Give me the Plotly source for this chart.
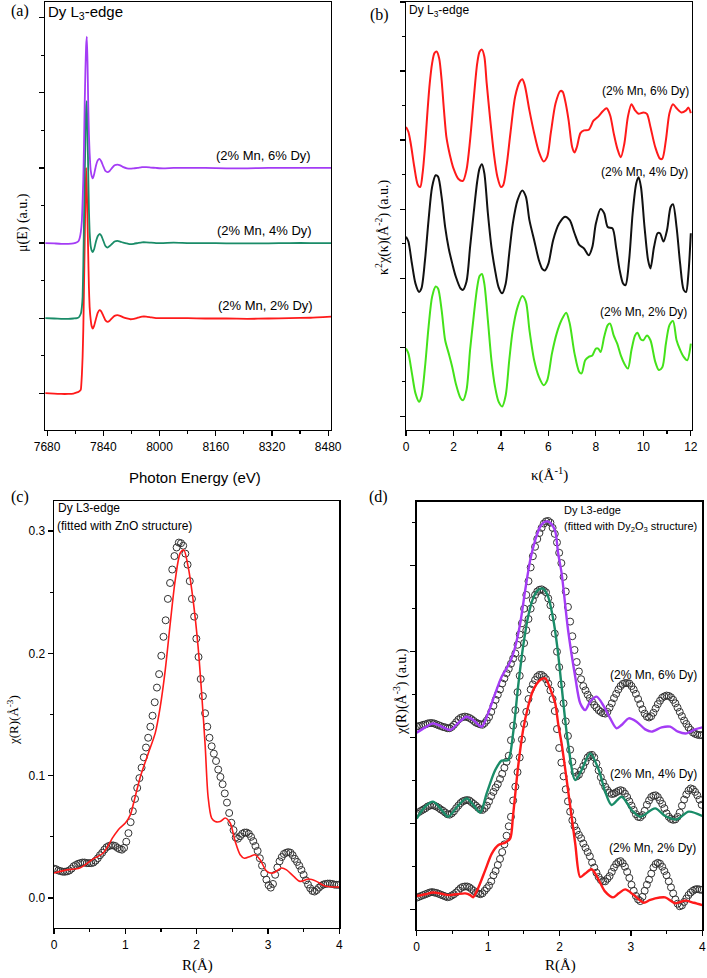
import plotly.graph_objects as go

# ---------------- Panel (a): XANES mu(E) ----------------
E_A = [7675, 7700, 7720, 7740, 7755, 7765, 7770, 7773, 7776, 7779, 7781, 7783, 7785, 7787,
       7789, 7791, 7793, 7795, 7797, 7799, 7801, 7804, 7807, 7810, 7814, 7819, 7824, 7829,
       7834, 7840, 7846, 7852, 7858, 7865, 7872, 7880, 7888, 7897, 7907, 7917, 7927, 7938,
       7950, 7962, 7975, 7990, 8010, 8040, 8080, 8130, 8190, 8250, 8310, 8370, 8430, 8488]
MU_2DY = [0.0, -0.005, -0.01, -0.01, -0.005, 0.01, 0.02, 0.03, 0.05, 0.25, 0.48, 0.85, 1.41, 2.0,
          2.6, 3.0, 2.75, 2.30, 1.85, 1.41, 1.15, 0.98, 0.89, 0.86, 0.90, 0.99, 1.07, 1.105,
          1.09, 1.03, 0.97, 0.95, 0.965, 1.0, 1.03, 1.04, 1.03, 1.01, 0.995, 0.985, 0.99, 1.005,
          1.02, 1.02, 1.01, 1.0, 1.0, 1.0, 1.0, 0.995, 0.995, 0.99, 0.995, 1.0, 1.005, 1.02]
MU_4DY = [1.0, 0.995, 0.99, 0.99, 0.995, 1.0, 1.01, 1.03, 1.06, 1.15, 1.28, 1.7, 2.30, 2.9,
          3.35, 3.80, 3.89, 3.49, 2.95, 2.45, 2.15, 1.96, 1.90, 1.88, 1.92, 2.02, 2.09, 2.12,
          2.10, 2.03, 1.96, 1.94, 1.96, 1.99, 2.02, 2.03, 2.02, 2.005, 1.995, 1.985, 1.99, 2.0,
          2.01, 2.01, 2.005, 2.0, 2.0, 2.005, 2.0, 2.0, 1.995, 1.995, 1.995, 2.0, 2.0, 2.0]
MU_6DY = [2.0, 1.995, 1.99, 1.99, 1.995, 2.01, 2.03, 2.07, 2.15, 2.3, 2.55, 2.85, 3.3, 3.85,
          4.3, 4.62, 4.75, 4.42, 3.85, 3.45, 3.2, 2.97, 2.89, 2.86, 2.92, 3.03, 3.1, 3.12,
          3.09, 3.02, 2.96, 2.945, 2.96, 3.0, 3.035, 3.045, 3.035, 3.01, 2.995, 2.99, 2.995, 3.0,
          3.01, 3.01, 3.005, 3.0, 2.995, 3.0, 3.0, 3.0, 2.995, 2.995, 3.0, 3.0, 3.0, 3.0]

# ---------------- Panel (b): k^2 chi(k) ----------------
K_6DY = [0, 0.1, 0.2, 0.35, 0.5, 0.6, 0.7, 0.8, 0.9, 1.0, 1.1, 1.2, 1.3, 1.4, 1.5, 1.6, 1.7, 1.8,
         1.9, 2.0, 2.2, 2.4, 2.55, 2.7, 2.85, 3.0, 3.1, 3.2, 3.3, 3.4, 3.55, 3.7, 3.85, 4.0, 4.1,
         4.25, 4.4, 4.6, 4.8, 4.9, 5.0, 5.2, 5.4, 5.6, 5.8, 5.95, 6.1, 6.3, 6.5, 6.6, 6.7, 6.85,
         7.0, 7.1, 7.2, 7.35, 7.5, 7.7, 7.9, 8.1, 8.3, 8.45, 8.6, 8.75, 8.9, 9.05, 9.2, 9.35, 9.5,
         9.65, 9.8, 10.0, 10.15, 10.3, 10.5, 10.7, 10.8, 10.95, 11.1, 11.25, 11.4, 11.6, 11.8,
         11.9, 12.0]
CHI_6DY = [4.19, 4.12, 3.95, 3.61, 3.35, 3.32, 3.52, 3.90, 4.39, 4.82, 5.11, 5.26, 5.28, 5.18,
           4.87, 4.43, 4.05, 3.86, 3.71, 3.59, 3.44, 3.41, 3.57, 4.0, 4.58, 5.11, 5.28, 5.31,
           5.21, 4.82, 4.29, 3.81, 3.47, 3.32, 3.35, 3.66, 4.10, 4.63, 4.85, 4.88, 4.80, 4.43,
           4.10, 3.83, 3.69, 3.76, 4.10, 4.53, 4.71, 4.70, 4.58, 4.29, 3.90, 3.82, 3.90, 4.10,
           4.14, 4.15, 4.28, 4.34, 4.42, 4.46, 4.36, 4.10, 3.88, 3.75, 3.95, 4.34, 4.52, 4.43,
           4.38, 4.40, 4.38, 4.19, 3.90, 3.73, 3.73, 4.0, 4.39, 4.52, 4.46, 4.40, 4.43, 4.47, 4.39]
K_4DY = [0, 0.1, 0.25, 0.4, 0.55, 0.65, 0.8, 0.95, 1.1, 1.25, 1.35, 1.5, 1.65, 1.8, 1.95, 2.1,
         2.3, 2.4, 2.55, 2.7, 2.85, 3.0, 3.1, 3.2, 3.3, 3.45, 3.6, 3.75, 3.9, 4.05, 4.2, 4.35,
         4.5, 4.7, 4.9, 5.05, 5.2, 5.4, 5.6, 5.75, 5.85, 6.0, 6.2, 6.45, 6.7, 6.9, 7.1, 7.3, 7.5,
         7.7, 7.85, 8.0, 8.2, 8.35, 8.5, 8.7, 8.85, 9.0, 9.15, 9.25, 9.4, 9.55, 9.7, 9.8, 9.9,
         10.05, 10.2, 10.3, 10.45, 10.6, 10.7, 10.85, 11.0, 11.15, 11.25, 11.4, 11.55, 11.7,
         11.8, 11.9, 12.0]
CHI_4DY = [2.60, 2.53, 2.21, 1.92, 1.80, 1.85, 2.26, 2.84, 3.32, 3.49, 3.47, 3.18, 2.74, 2.43,
           2.21, 2.02, 1.85, 1.83, 1.95, 2.45, 2.94, 3.40, 3.59, 3.65, 3.52, 2.94, 2.45, 2.12,
           1.87, 1.78, 1.92, 2.36, 2.79, 3.13, 3.27, 3.18, 2.84, 2.55, 2.26, 2.13, 2.11, 2.21,
           2.55, 2.79, 2.89, 2.84, 2.65, 2.48, 2.43, 2.33, 2.45, 2.79, 3.0, 2.94, 2.74, 2.72,
           2.45, 2.12, 1.92, 1.90, 2.26, 2.94, 3.37, 3.46, 3.32, 2.74, 2.26, 2.14, 2.45, 2.65,
           2.65, 2.53, 2.70, 3.03, 3.07, 2.74, 2.21, 1.83, 1.80, 2.07, 2.65]
K_2DY = [0, 0.1, 0.25, 0.4, 0.55, 0.65, 0.8, 0.95, 1.1, 1.25, 1.35, 1.5, 1.65, 1.8, 1.95, 2.1,
         2.3, 2.4, 2.55, 2.7, 2.85, 3.0, 3.1, 3.2, 3.3, 3.45, 3.6, 3.75, 3.9, 4.05, 4.2, 4.35,
         4.5, 4.7, 4.9, 5.05, 5.2, 5.4, 5.6, 5.8, 5.95, 6.15, 6.35, 6.55, 6.75, 6.9, 7.1, 7.3,
         7.4, 7.55, 7.7, 7.85, 8.0, 8.1, 8.2, 8.35, 8.5, 8.6, 8.75, 8.9, 9.05, 9.2, 9.35, 9.5,
         9.65, 9.75, 9.9, 10.0, 10.15, 10.3, 10.5, 10.65, 10.8, 10.95, 11.1, 11.25, 11.4, 11.55,
         11.7, 11.85, 12.0]
CHI_2DY = [0.98, 0.91, 0.62, 0.33, 0.21, 0.28, 0.71, 1.29, 1.73, 1.88, 1.85, 1.54, 1.10, 0.91,
           0.71, 0.47, 0.26, 0.23, 0.38, 0.96, 1.44, 1.87, 2.03, 2.06, 1.92, 1.39, 0.81, 0.43,
           0.21, 0.14, 0.30, 0.81, 1.25, 1.58, 1.74, 1.66, 1.25, 0.81, 0.57, 0.45, 0.52, 0.91,
           1.20, 1.39, 1.50, 1.34, 0.91, 0.64, 0.62, 0.81, 0.86, 0.88, 0.98, 0.98, 0.93, 1.15,
           1.32, 1.34, 1.17, 1.05, 0.88, 0.76, 0.69, 0.96, 1.17, 1.21, 1.11, 1.10, 1.17, 1.10,
           0.79, 0.67, 0.71, 1.05, 1.32, 1.38, 1.10, 0.96, 0.86, 0.81, 1.05]

# ---------------- Common R grid for measured chi(R) (circles) ----------------
R_GRID = [0.0, 0.0307, 0.0614, 0.0921, 0.1228, 0.1535, 0.1842, 0.2149, 0.2456, 0.2763,
          0.307, 0.3377, 0.3684, 0.3991, 0.4298, 0.4605, 0.4912, 0.5219, 0.5526, 0.5833,
          0.614, 0.6447, 0.6754, 0.7061, 0.7368, 0.7675, 0.7982, 0.8289, 0.8596, 0.8903,
          0.921, 0.9517, 0.9824, 1.0131, 1.0438, 1.0745, 1.1052, 1.1359, 1.1666, 1.1973,
          1.228, 1.2587, 1.2894, 1.3201, 1.3508, 1.3815, 1.4122, 1.4429, 1.4736, 1.5043,
          1.535, 1.5657, 1.5964, 1.6271, 1.6578, 1.6885, 1.7192, 1.7499, 1.7806, 1.8113,
          1.842, 1.8727, 1.9034, 1.9341, 1.9648, 1.9955, 2.0262, 2.0569, 2.0876, 2.1183,
          2.149, 2.1797, 2.2104, 2.2411, 2.2718, 2.3025, 2.3332, 2.3639, 2.3946, 2.4253,
          2.456, 2.4867, 2.5174, 2.5481, 2.5788, 2.6095, 2.6402, 2.6709, 2.7016, 2.7323,
          2.763, 2.7937, 2.8244, 2.8551, 2.8858, 2.9165, 2.9472, 2.9779, 3.0086, 3.0393,
          3.07, 3.1007, 3.1314, 3.1621, 3.1928, 3.2235, 3.2542, 3.2849, 3.3156, 3.3463,
          3.377, 3.4077, 3.4384, 3.4691, 3.4998, 3.5305, 3.5612, 3.5919, 3.6226, 3.6533,
          3.684, 3.7147, 3.7454, 3.7761, 3.8068, 3.8375, 3.8682, 3.8989, 3.9296, 3.9603, 3.991]

# ---------------- Panel (c): ZnO-structure fit ----------------
CHI_C_DATA = [0.024, 0.0235, 0.0225, 0.022, 0.0215, 0.0215, 0.0218, 0.0225, 0.024, 0.026,
              0.027, 0.028, 0.0285, 0.029, 0.029, 0.0285, 0.0285, 0.0285, 0.029, 0.0305,
              0.0325, 0.035, 0.037, 0.0395, 0.0415, 0.0425, 0.043, 0.043, 0.0425, 0.041,
              0.040, 0.0395, 0.041, 0.046, 0.053, 0.062, 0.071, 0.081, 0.090, 0.098,
              0.1065, 0.115, 0.123, 0.131, 0.140, 0.149, 0.160, 0.172, 0.183, 0.198,
              0.2135, 0.227, 0.2445, 0.2575, 0.2685, 0.2795, 0.2865, 0.2905, 0.290, 0.288,
              0.2815, 0.2725, 0.259, 0.2445, 0.230, 0.212, 0.197, 0.179, 0.165, 0.151,
              0.140, 0.131, 0.124, 0.118, 0.112, 0.105, 0.099, 0.093, 0.0855, 0.078,
              0.0695, 0.0615, 0.0555, 0.0495, 0.0485, 0.0505, 0.0525, 0.0535, 0.0535, 0.0525,
              0.050, 0.0465, 0.0425, 0.0385, 0.0325, 0.0265, 0.020, 0.015, 0.0105, 0.0085,
              0.0115, 0.019, 0.025, 0.030, 0.0335, 0.036, 0.037, 0.0375, 0.037, 0.035,
              0.032, 0.0295, 0.0265, 0.023, 0.019, 0.0145, 0.011, 0.008, 0.0058, 0.0053,
              0.0065, 0.0085, 0.010, 0.011, 0.0115, 0.0118, 0.0118, 0.0115, 0.011, 0.0108, 0.0108]
R_C_FIT = [0, 0.18, 0.36, 0.55, 0.69, 0.83, 0.92, 1.0, 1.07, 1.11, 1.21, 1.32, 1.42, 1.49, 1.56,
           1.63, 1.70, 1.77, 1.82, 1.88, 1.95, 2.02, 2.07, 2.12, 2.16, 2.21, 2.26, 2.33, 2.40,
           2.47, 2.54, 2.61, 2.67, 2.75, 2.82, 2.89, 2.98, 3.07, 3.19, 3.26, 3.36, 3.45, 3.57,
           3.68, 3.80, 3.92, 4.0]
CHI_C_FIT = [0.0204, 0.023, 0.0245, 0.032, 0.0368, 0.050, 0.057, 0.0613, 0.068, 0.0762, 0.099,
             0.118, 0.135, 0.1565, 0.1865, 0.2246, 0.26, 0.282, 0.2845, 0.271, 0.2437, 0.2055,
             0.1674, 0.124, 0.083, 0.0653, 0.0626, 0.0625, 0.0654, 0.0613, 0.0463, 0.0354,
             0.0325, 0.034, 0.0354, 0.0313, 0.022, 0.0204, 0.0245, 0.023, 0.0177, 0.0136,
             0.0155, 0.0136, 0.0098, 0.009, 0.009]

# ---------------- Panel (d): Dy2O3-structure fits (offset, a.u.) ----------------
D_DATA_2DY = [0.14, 0.15, 0.16, 0.17, 0.18, 0.19, 0.20, 0.205, 0.20, 0.195,
              0.185, 0.175, 0.165, 0.155, 0.145, 0.15, 0.165, 0.18, 0.20, 0.225,
              0.25, 0.265, 0.27, 0.27, 0.26, 0.24, 0.22, 0.20, 0.19, 0.18,
              0.19, 0.22, 0.25, 0.28, 0.33, 0.40, 0.45, 0.52, 0.59, 0.67,
              0.76, 0.86, 0.97, 1.08, 1.27, 1.43, 1.60, 1.77, 1.98, 2.16,
              2.30, 2.45, 2.56, 2.62, 2.67, 2.71, 2.73, 2.73, 2.71, 2.68,
              2.63, 2.55, 2.45, 2.31, 2.10, 1.88, 1.71, 1.55, 1.40, 1.26,
              1.14, 1.04, 0.97, 0.92, 0.87, 0.83, 0.77, 0.72, 0.67, 0.62,
              0.55, 0.49, 0.43, 0.38, 0.345, 0.33, 0.33, 0.36, 0.39, 0.44,
              0.49, 0.53, 0.555, 0.565, 0.54, 0.50, 0.44, 0.37, 0.29, 0.22,
              0.16, 0.12, 0.10, 0.15, 0.22, 0.29, 0.35, 0.42, 0.49, 0.53,
              0.545, 0.535, 0.50, 0.45, 0.40, 0.33, 0.26, 0.19, 0.12, 0.07,
              0.04, 0.05, 0.09, 0.13, 0.17, 0.20, 0.22, 0.235, 0.24, 0.235, 0.23]
D_DATA_4DY = [1.12, 1.135, 1.15, 1.165, 1.18, 1.20, 1.21, 1.215, 1.21, 1.20,
              1.185, 1.165, 1.15, 1.13, 1.11, 1.105, 1.12, 1.145, 1.18, 1.21,
              1.24, 1.26, 1.27, 1.275, 1.27, 1.25, 1.23, 1.21, 1.185, 1.165,
              1.16, 1.18, 1.21, 1.26, 1.32, 1.37, 1.42, 1.46, 1.52, 1.58,
              1.65, 1.72, 1.79, 1.97, 2.14, 2.32, 2.53, 2.72, 2.92, 3.10,
              3.25, 3.38, 3.50, 3.60, 3.66, 3.70, 3.72, 3.725, 3.71, 3.69,
              3.62, 3.54, 3.40, 3.21, 3.00, 2.82, 2.62, 2.40, 2.19, 2.02,
              1.86, 1.72, 1.60, 1.55, 1.57, 1.62, 1.67, 1.72, 1.77, 1.795,
              1.80, 1.77, 1.70, 1.62, 1.54, 1.48, 1.43, 1.39, 1.36, 1.345,
              1.35, 1.365, 1.38, 1.39, 1.38, 1.35, 1.31, 1.26, 1.21, 1.16,
              1.11, 1.08, 1.075, 1.10, 1.15, 1.22, 1.27, 1.31, 1.325, 1.33,
              1.31, 1.27, 1.23, 1.18, 1.12, 1.08, 1.055, 1.045, 1.05, 1.08,
              1.13, 1.21, 1.28, 1.34, 1.385, 1.41, 1.40, 1.37, 1.33, 1.28, 1.22]
D_DATA_6DY = [2.13, 2.135, 2.14, 2.15, 2.155, 2.165, 2.17, 2.17, 2.165, 2.155,
              2.145, 2.135, 2.125, 2.12, 2.11, 2.11, 2.125, 2.15, 2.18, 2.21,
              2.23, 2.24, 2.245, 2.24, 2.23, 2.215, 2.195, 2.175, 2.165, 2.155,
              2.15, 2.17, 2.20, 2.24, 2.30, 2.37, 2.44, 2.50, 2.56, 2.63,
              2.69, 2.75, 2.80, 2.86, 2.92, 2.98, 3.08, 3.20, 3.33, 3.50,
              3.66, 3.82, 3.98, 4.11, 4.22, 4.31, 4.38, 4.44, 4.49, 4.515,
              4.52, 4.50, 4.44, 4.37, 4.27, 4.15, 4.03, 3.87, 3.70, 3.52,
              3.35, 3.18, 3.02, 2.88, 2.77, 2.68, 2.60, 2.55, 2.50, 2.46,
              2.42, 2.38, 2.35, 2.32, 2.30, 2.285, 2.28, 2.30, 2.35, 2.40,
              2.46, 2.51, 2.56, 2.60, 2.625, 2.635, 2.635, 2.63, 2.60, 2.56,
              2.51, 2.45, 2.39, 2.33, 2.28, 2.245, 2.235, 2.25, 2.29, 2.34,
              2.39, 2.43, 2.465, 2.48, 2.49, 2.485, 2.47, 2.44, 2.40, 2.35,
              2.30, 2.25, 2.20, 2.16, 2.12, 2.09, 2.06, 2.045, 2.035, 2.03, 2.03]

R_D_FIT_2DY = [0, 0.12, 0.23, 0.35, 0.44, 0.56, 0.68, 0.75, 0.79, 0.86, 0.96, 1.05, 1.14, 1.24,
               1.31, 1.35, 1.42, 1.49, 1.56, 1.63, 1.73, 1.80, 1.87, 1.94, 1.98, 2.03, 2.12,
               2.22, 2.29, 2.36, 2.45, 2.55, 2.64, 2.75, 2.83, 2.92, 3.04, 3.18, 3.26, 3.34,
               3.48, 3.62, 3.76, 3.88, 4.0]
D_FIT_2DY = [0.16, 0.18, 0.20, 0.185, 0.17, 0.18, 0.19, 0.17, 0.145, 0.25, 0.46, 0.65, 0.75,
             0.78, 0.83, 1.10, 1.66, 2.09, 2.36, 2.55, 2.67, 2.69, 2.57, 2.40, 2.17, 1.93, 1.39,
             0.77, 0.38, 0.42, 0.47, 0.345, 0.21, 0.143, 0.19, 0.236, 0.171, 0.081, 0.11, 0.132,
             0.143, 0.074, 0.105, 0.081, 0.054]
R_D_FIT_4DY = [0, 0.12, 0.23, 0.34, 0.44, 0.57, 0.70, 0.80, 0.89, 0.98, 1.10, 1.19, 1.28, 1.35,
               1.42, 1.49, 1.56, 1.63, 1.70, 1.77, 1.84, 1.91, 1.97, 2.03, 2.12, 2.22, 2.31,
               2.43, 2.55, 2.64, 2.73, 2.87, 3.01, 3.13, 3.34, 3.48, 3.64, 3.81, 4.0]
D_FIT_4DY = [1.06, 1.20, 1.256, 1.17, 1.08, 1.20, 1.295, 1.21, 1.13, 1.353, 1.624, 1.733, 1.74,
             2.05, 2.593, 3.058, 3.407, 3.62, 3.717, 3.733, 3.64, 3.388, 3.05, 2.593, 1.934,
             1.508, 1.624, 1.818, 1.624, 1.372, 1.217, 1.314, 1.159, 1.081, 1.178, 1.089, 1.05,
             1.14, 1.089]
R_D_FIT_6DY = [0, 0.12, 0.23, 0.35, 0.47, 0.58, 0.70, 0.80, 0.91, 1.0, 1.10, 1.19, 1.31, 1.38,
               1.45, 1.52, 1.59, 1.66, 1.73, 1.80, 1.87, 1.94, 1.98, 2.03, 2.12, 2.22, 2.29,
               2.36, 2.43, 2.52, 2.61, 2.71, 2.80, 2.87, 2.97, 3.08, 3.20, 3.29, 3.43, 3.55,
               3.66, 3.78, 3.90, 4.0]
D_FIT_6DY = [2.058, 2.12, 2.167, 2.13, 2.089, 2.17, 2.244, 2.20, 2.128, 2.283, 2.515, 2.709,
             2.884, 3.058, 3.33, 3.717, 4.066, 4.298, 4.453, 4.512, 4.5, 4.40, 4.15, 3.91, 3.252,
             2.709, 2.40, 2.32, 2.419, 2.477, 2.38, 2.225, 2.109, 2.147, 2.225, 2.186, 2.097,
             2.07, 2.12, 2.128, 2.07, 2.05, 2.097, 2.12]

# ---------------- Styling ----------------
RED = "#ff1a1a"
GREEN_D = "#1a8c68"
PURPLE = "#a43cf5"
LIME = "#44e21a"
BLACK = "#111111"
CIRC = "#333333"
SANS = "Liberation Sans, Arial, sans-serif"
SERIF = "Liberation Serif, Times New Roman, serif"

W, H = 707, 978


def px(x):
    return x / W


def py(y):
    return 1 - y / H


fig = go.Figure()

# (a)
for mu, col in [(MU_2DY, RED), (MU_4DY, GREEN_D), (MU_6DY, PURPLE)]:
    fig.add_trace(go.Scatter(x=E_A, y=mu, mode="lines", xaxis="x", yaxis="y",
                             line=dict(color=col, width=1.8, shape="spline", smoothing=0.4),
                             showlegend=False, hoverinfo="skip"))
# (b)
for k, c, col in [(K_6DY, CHI_6DY, RED), (K_4DY, CHI_4DY, BLACK), (K_2DY, CHI_2DY, LIME)]:
    fig.add_trace(go.Scatter(x=k, y=c, mode="lines", xaxis="x2", yaxis="y2",
                             line=dict(color=col, width=2, shape="spline", smoothing=0.8),
                             showlegend=False, hoverinfo="skip"))
# (c)
fig.add_trace(go.Scatter(x=R_GRID, y=CHI_C_DATA, mode="markers", xaxis="x3", yaxis="y3",
                         marker=dict(symbol="circle-open", size=7, color=CIRC,
                                     line=dict(width=1, color=CIRC)),
                         showlegend=False, hoverinfo="skip"))
fig.add_trace(go.Scatter(x=R_C_FIT, y=CHI_C_FIT, mode="lines", xaxis="x3", yaxis="y3",
                         line=dict(color=RED, width=1.6, shape="spline", smoothing=0.8),
                         showlegend=False, hoverinfo="skip"))
# (d)
for dat in [D_DATA_2DY, D_DATA_4DY, D_DATA_6DY]:
    fig.add_trace(go.Scatter(x=R_GRID, y=dat, mode="markers", xaxis="x4", yaxis="y4",
                             marker=dict(symbol="circle-open", size=7, color=CIRC,
                                         line=dict(width=1, color=CIRC)),
                             showlegend=False, hoverinfo="skip"))
for r, f, col in [(R_D_FIT_2DY, D_FIT_2DY, RED), (R_D_FIT_4DY, D_FIT_4DY, GREEN_D),
                  (R_D_FIT_6DY, D_FIT_6DY, PURPLE)]:
    fig.add_trace(go.Scatter(x=r, y=f, mode="lines", xaxis="x4", yaxis="y4",
                             line=dict(color=col, width=2.4, shape="spline", smoothing=0.8),
                             showlegend=False, hoverinfo="skip"))


def ax(domain, rng, dtick, tick0, minor_dtick, labels=True, anchor=None, fmt=None):
    d = dict(domain=domain, range=rng, tickmode="linear", dtick=dtick, tick0=tick0,
             ticks="outside", ticklen=5, tickwidth=1.2, tickcolor="black",
             minor=dict(ticks="outside", ticklen=3, tickwidth=1.2, tickcolor="black",
                        dtick=minor_dtick, tick0=tick0),
             showline=True, mirror=True, linecolor="black", linewidth=1.4,
             showgrid=False, zeroline=False, showticklabels=labels, automargin=False,
             tickfont=dict(family=SANS, size=12, color="black"), anchor=anchor, fixedrange=True)
    if fmt:
        d["tickformat"] = fmt
    return d


layout = dict(
    width=W, height=H, margin=dict(l=0, r=0, t=0, b=0, autoexpand=False),
    paper_bgcolor="white", plot_bgcolor="white", showlegend=False,
    xaxis=ax([px(45), px(331)], [7674, 8488], 160, 7680, 80, anchor="y"),
    yaxis=ax([py(430), py(2)], [-0.49, 5.21], 1, 0, 0.5, labels=False, anchor="x"),
    xaxis2=ax([px(406), px(692)], [0, 12.05], 2, 0, 1, anchor="y2"),
    yaxis2=ax([py(430), py(2)], [-0.2, 6.0], 1, 0, 0.5, labels=False, anchor="x2"),
    xaxis3=ax([px(54), px(339.3)], [0, 4], 1, 0, 0.5, anchor="y3"),
    yaxis3=ax([py(928), py(501)], [-0.0245, 0.3245], 0.1, 0, 0.05, anchor="x3", fmt=".1f"),
    xaxis4=ax([px(416.7), px(702.3)], [0, 4], 1, 0, 0.5, anchor="y4"),
    yaxis4=ax([py(930), py(501.7)], [-0.236, 4.744], 1, 0, 0.5, labels=False, anchor="x4"),
)
fig.update_layout(**layout)


def ann(text, x, y, size=12, family=SANS, angle=0, xanchor="center", yanchor="middle"):
    fig.add_annotation(text=text, x=px(x), y=py(y), xref="paper", yref="paper",
                       showarrow=False, textangle=angle, xanchor=xanchor, yanchor=yanchor,
                       font=dict(family=family, size=size, color="black"))


# panel letters
ann("(a)", 20, 11, 16, SERIF)
ann("(b)", 379, 15, 16, SERIF)
ann("(c)", 20, 497, 16, SERIF)
ann("(d)", 378, 497, 16, SERIF)

# (a) texts
ann("Dy L<sub>3</sub>-edge", 46, 13, 15, xanchor="left")
ann("(2% Mn, 6% Dy)", 313, 155, 13, xanchor="right")
ann("(2% Mn, 4% Dy)", 314, 231, 13, xanchor="right")
ann("(2% Mn, 2% Dy)", 315, 305, 13, xanchor="right")
ann("Photon Energy (eV)", 195, 477, 15)
ann("μ(E) (a.u.)", 23, 223, 14, SERIF, angle=-90)

# (b) texts
ann("Dy L<sub>3</sub>-edge", 407, 11, 12, xanchor="left")
ann("(2% Mn, 6% Dy)", 691, 91, 12, xanchor="right")
ann("(2% Mn, 4% Dy)", 690, 172, 12, xanchor="right")
ann("(2% Mn, 2% Dy)", 689, 312, 12, xanchor="right")
ann("κ(Å<sup>-1</sup>)", 549, 474, 15, SERIF)
ann("κ<sup>2</sup>χ(κ)(Å<sup>-2</sup>) (a.u.)", 382, 227, 14, SERIF, angle=-90)

# (c) texts
ann("Dy L3-edge", 56, 508, 12, xanchor="left")
ann("(fitted with ZnO structure)", 55, 526, 12, xanchor="left")
ann("R(Å)", 197, 965, 15, SERIF)
ann("χ(R)(Å<sup>-3</sup>)", 13, 720, 13, SERIF, angle=-90)

# (d) texts
ann("Dy L3-edge", 562, 510, 11, xanchor="left")
ann("(fitted with Dy<sub>2</sub>O<sub>3</sub> structure)", 562, 527, 11, xanchor="left")
ann("(2% Mn, 6% Dy)", 699, 675, 12, xanchor="right")
ann("(2% Mn, 4% Dy)", 699, 774, 12, xanchor="right")
ann("(2% Mn, 2% Dy)", 698, 848, 12, xanchor="right")
ann("R(Å)", 560, 965, 15, SERIF)
ann("χ(R)(Å<sup>-3</sup>) (a.u.)", 400, 692, 14, SERIF, angle=-90)

fig.write_html("out.html",
               config={"displayModeBar": False, "staticPlot": True},
               post_script="document.body.style.margin='0';"
                           "document.body.style.overflow='hidden';")
